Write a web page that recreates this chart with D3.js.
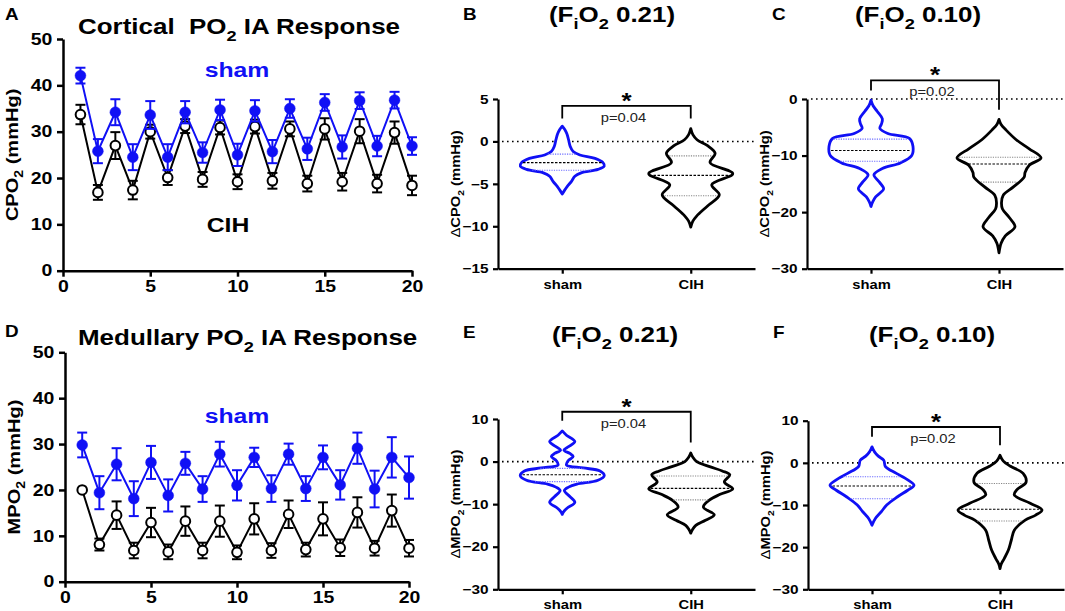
<!DOCTYPE html>
<html>
<head>
<meta charset="utf-8">
<script src="https://cdn.jsdelivr.net/npm/d3@7"></script>
<style>
  body { margin: 0; background: #fff; }
  svg { display: block; }
</style>
</head>
<body>
<svg id="fig" width="1065" height="611"></svg>
<script>
// ---------- data ----------
var trial = [1, 2, 3, 4, 5, 6, 7, 8, 9, 10, 11, 12, 13, 14, 15, 16, 17, 18, 19, 20];

// cortical PO2 (panel A)
var cortSham    = [42.1, 25.8, 34.2, 24.5, 33.6, 24.5, 34.2, 25.5, 34.7, 25.0, 34.5, 25.7, 35.0, 26.3, 36.3, 26.7, 36.7, 26.9, 36.8, 26.9];
var cortShamErr = [1.7, 2.6, 2.8, 2.8, 3.0, 2.8, 2.4, 2.2, 2.2, 2.4, 2.3, 2.5, 2.0, 2.4, 1.8, 2.5, 1.8, 2.2, 1.8, 1.9];
var cortCih     = [33.7, 16.9, 27.0, 17.4, 30.0, 20.1, 31.2, 19.7, 30.9, 19.2, 31.1, 19.4, 30.6, 18.8, 30.6, 19.2, 30.1, 18.8, 29.8, 18.4];
var cortCihErr  = [2.1, 1.6, 2.9, 2.0, 1.5, 1.6, 1.5, 1.6, 1.5, 1.6, 1.5, 1.7, 1.6, 1.7, 2.3, 1.9, 2.6, 1.9, 2.4, 2.1];

// medullary PO2 (panel D)
var medSham    = [29.8, 19.4, 25.6, 18.1, 26.0, 18.8, 25.8, 20.2, 27.8, 21.0, 27.1, 20.3, 27.8, 20.3, 27.1, 21.1, 29.1, 20.2, 27.1, 22.7];
var medShamErr = [2.7, 3.6, 3.5, 3.8, 3.6, 3.5, 2.5, 2.8, 2.7, 3.3, 2.1, 2.9, 2.3, 2.7, 2.6, 3.2, 3.4, 4.0, 4.4, 4.6];
var medCih     = [20.0, 8.1, 14.5, 6.8, 12.9, 6.5, 13.2, 6.8, 13.2, 6.4, 13.7, 6.8, 14.7, 7.0, 13.7, 7.4, 15.1, 7.3, 15.5, 7.3];
var medCihErr  = [0, 1.3, 3.0, 1.7, 3.2, 1.6, 3.2, 1.7, 3.4, 1.5, 3.4, 1.6, 3.0, 1.5, 3.6, 1.8, 3.3, 1.6, 3.5, 1.8];

var seriesTicksX = [0, 5, 10, 15, 20];
var seriesTicksY = [0, 10, 20, 30, 40, 50];

// violins: [value, relative density]  +  [Q1, median, Q3]
var groups = ["sham", "CIH"];

var cortNormShamDens = [[1.8,0],[1.4,0.06],[0.9,0.11],[0.2,0.15],[-0.6,0.19],[-1.2,0.26],[-1.6,0.42],[-2.0,0.78],[-2.5,0.97],[-2.9,1.0],[-3.3,0.85],[-3.7,0.45],[-4.1,0.3],[-4.7,0.22],[-5.3,0.12],[-5.8,0.05],[-6.2,0]];
var cortNormShamQ = [-1.5, -2.5, -3.4];
var cortNormCihDens = [[1.5,0],[0.8,0.05],[0.2,0.15],[-0.5,0.4],[-1.4,0.58],[-2.5,0.46],[-3.8,1.0],[-5.1,0.5],[-6.3,0.68],[-7.6,0.4],[-8.8,0.14],[-9.4,0.05],[-10.1,0]];
var cortNormCihQ = [-1.7, -4.0, -6.4];

var cortHypShamDens = [[-0.2,0],[-1.2,0.05],[-2.2,0.15],[-3.5,0.27],[-4.4,0.25],[-5.2,0.21],[-6.1,0.4],[-7.0,0.92],[-8.4,1.0],[-10.0,0.97],[-11.3,0.7],[-12.3,0.27],[-13.4,0.07],[-14.7,0.2],[-15.9,0.3],[-17.3,0.11],[-18.2,0.04],[-19.0,0]];
var cortHypShamQ = [-7.1, -9.1, -11.0];
var cortHypCihDens = [[-3.6,0],[-4.5,0.05],[-5.5,0.17],[-7.2,0.41],[-8.8,0.72],[-10.4,1.0],[-11.7,0.72],[-13.0,0.62],[-13.8,0.6],[-15.5,0.35],[-17.0,0.1],[-18.3,0.06],[-19.4,0.08],[-21.0,0.25],[-22.6,0.38],[-24.2,0.15],[-25.5,0.05],[-27.2,0]];
var cortHypCihQ = [-10.3, -11.5, -14.7];

var medNormShamDens = [[7.2,0],[6.2,0.1],[4.7,0.3],[3.5,0.15],[2.7,0.04],[1.9,0.18],[1.2,0.26],[0.2,0.14],[-0.8,0.1],[-1.5,0.5],[-2.2,0.9],[-3.3,1.0],[-4.4,0.85],[-5.3,0.35],[-6.0,0.15],[-6.8,0.05],[-8.2,0.18],[-9.6,0.3],[-10.9,0.12],[-11.7,0.04],[-12.4,0]];
var medNormShamQ = [-1.6, -3.1, -4.7];
var medNormCihDens = [[2.0,0],[1.0,0.05],[0,0.14],[-1.2,0.45],[-2.2,0.75],[-3.1,0.93],[-4.8,0.8],[-6.4,1.0],[-7.7,0.7],[-9.0,0.45],[-10.7,0.3],[-12.5,0.56],[-13.8,0.35],[-15.0,0.12],[-16.0,0.04],[-16.8,0]];
var medNormCihQ = [-3.4, -6.3, -9.0];

var medHypShamDens = [[3.8,0],[2.6,0.06],[1.6,0.15],[0.6,0.28],[-0.9,0.32],[-2.5,0.58],[-4.1,0.86],[-5.3,1.0],[-6.5,0.85],[-8.1,0.6],[-10.0,0.35],[-11.6,0.22],[-13.2,0.08],[-14.8,0]];
var medHypShamQ = [-3.3, -5.5, -8.5];
var medHypCihDens = [[1.8,0],[0.4,0.08],[-0.8,0.25],[-2.5,0.55],[-4.6,0.62],[-6.4,0.4],[-7.6,0.34],[-9.6,0.72],[-11.2,1.0],[-12.4,0.85],[-13.6,0.6],[-16.0,0.34],[-18.3,0.27],[-20.7,0.2],[-22.7,0.1],[-24.0,0.03],[-25.1,0]];
var medHypCihQ = [-4.9, -11.0, -13.8];

var pValues = ["p=0.04", "p=0.02", "p=0.04", "p=0.02"];

// ---------- drawing ----------
var SX = 1.18;   // the source figure is stretched a bit horizontally
var FONT = '"Liberation Sans", Arial, Helvetica, sans-serif';
var BLUE = "#1010f5";

var svg = d3.select("#fig").attr("font-family", FONT);

// text with optional subscripts; parts are strings or {t, sub, w}
function label(parent, x, y, parts, o) {
	var tr = "translate(" + x + "," + y + ")" + (o.rot ? " rotate(" + o.rot + ")" : "") + " scale(" + SX + ",1)";
	var t = parent.append("g").attr("transform", tr).append("text")
		.attr("font-size", o.size)
		.attr("font-weight", o.weight || "bold")
		.attr("text-anchor", o.anchor || "start")
		.attr("fill", o.fill || "#000")
		.style("white-space", "pre");
	var shift = 0;
	parts.forEach(function(p) {
		var s = (typeof p === "string") ? {t: p} : p;
		var target = s.sub ? o.size * 0.3 : 0;
		var ts = t.append("tspan").text(s.t).attr("dy", target - shift);
		if (s.sub) ts.attr("font-size", o.size * 0.7);
		if (s.w) ts.attr("font-weight", s.w);
		shift = target;
	});
	return t;
}

function styleAxis(g, size, width) {
	g.attr("font-family", null).attr("font-size", null);
	g.select(".domain").attr("stroke", "#000").attr("stroke-width", width);
	g.selectAll(".tick line").attr("stroke", "#000").attr("stroke-width", width);
	g.selectAll(".tick text")
		.attr("font-size", size)
		.attr("font-weight", "bold")
		.attr("fill", "#000")
		.attr("transform", "scale(" + SX + ",1)");
}

// time course panel (A, D)
function seriesPanel(c) {
	var g = svg.append("g");
	var x = d3.scaleLinear().domain([0, 20]).range([c.x0, c.x1]);
	var y = d3.scaleLinear().domain([0, 50]).range([c.yBot, c.yTop]);

	var ax = g.append("g").attr("transform", "translate(0," + c.yBot + ")")
		.call(d3.axisBottom(x).tickValues(seriesTicksX).tickSize(6).tickSizeOuter(0).tickPadding(4));
	styleAxis(ax, 16.5, 2.5);
	var ay = g.append("g").attr("transform", "translate(" + c.x0 + ",0)")
		.call(d3.axisLeft(y).tickValues(seriesTicksY).tickSize(6).tickSizeOuter(0).tickPadding(3));
	styleAxis(ay, 16.5, 2.5);

	label(g, c.x0 - 45, (c.yTop + c.yBot) / 2, c.yLabel, {size: 17, rot: -90, anchor: "middle"});
	label(g, 5, c.letterY, [c.letter], {size: 16});
	label(g, 78, c.titleY, c.title, {size: 22});

	var line = d3.line().x(function(d, i) { return x(trial[i]); }).y(function(d) { return y(d); });

	c.series.forEach(function(s) {
		var sg = g.append("g");
		sg.append("path").datum(s.mean).attr("d", line)
			.attr("fill", "none").attr("stroke", s.color).attr("stroke-width", 2);

		// error bars (SEM), skipped where none is shown
		sg.selectAll("g.err").data(s.mean).join("g").attr("class", "err").each(function(d, i) {
			if (!(s.err[i] > 0)) return;
			var el = d3.select(this);
			var cx = x(trial[i]), lo = y(d - s.err[i]), hi = y(d + s.err[i]);
			el.append("line").attr("x1", cx).attr("x2", cx).attr("y1", lo).attr("y2", hi);
			el.append("line").attr("x1", cx - 5).attr("x2", cx + 5).attr("y1", lo).attr("y2", lo);
			el.append("line").attr("x1", cx - 5).attr("x2", cx + 5).attr("y1", hi).attr("y2", hi);
			el.selectAll("line").attr("stroke", s.color).attr("stroke-width", 2);
		});

		sg.selectAll("circle").data(s.mean).join("circle")
			.attr("cx", function(d, i) { return x(trial[i]); })
			.attr("cy", function(d) { return y(d); })
			.attr("r", s.filled ? 5.4 : 4.8)
			.attr("fill", s.filled ? s.color : "#fff")
			.attr("stroke", s.color)
			.attr("stroke-width", s.filled ? 0.5 : 2);
	});

	c.notes.forEach(function(n) {
		label(g, n.x, n.y, [n.t], {size: 21, anchor: "middle", fill: n.color});
	});
}

function densAt(dens, v) {
	for (var i = 0; i < dens.length - 1; i++) {
		var a = dens[i], b = dens[i + 1];
		if (v <= a[0] && v >= b[0]) return a[1] + (b[1] - a[1]) * (a[0] - v) / (a[0] - b[0]);
	}
	return 0;
}

// violin panel (B, C, E, F)
function violinPanel(c) {
	var g = svg.append("g");
	var x = d3.scalePoint().domain(groups).range([c.x0, c.x1]).padding(0.5);
	var y = d3.scaleLinear().domain(c.domain).range([c.yBot, c.yTop]);
	var w = d3.scaleLinear().domain([0, 1]).range([0, 42]);

	// zero reference line
	g.append("line").attr("x1", c.x0 + 4).attr("x2", c.x1).attr("y1", y(0)).attr("y2", y(0))
		.attr("stroke", "#000").attr("stroke-width", 1.6).attr("stroke-dasharray", "1.6,3.4");

	var ax = g.append("g").attr("transform", "translate(0," + c.yBot + ")")
		.call(d3.axisBottom(x).tickSize(5).tickSizeOuter(0).tickPadding(6));
	styleAxis(ax, 12.5, 2.2);
	var ay = g.append("g").attr("transform", "translate(" + c.x0 + ",0)")
		.call(d3.axisLeft(y).tickValues(c.ticks).tickSize(5).tickSizeOuter(0).tickPadding(3));
	styleAxis(ay, 13, 2.2);

	label(g, c.x0 - 38, (c.yTop + c.yBot) / 2, [{t: "\u0394", w: "normal"}, c.site + "PO", {t: "2", sub: true}, " (mmHg)"], {size: 12.5, rot: -90, anchor: "middle"});
	label(g, c.x0 - 35, c.letterY, [c.letter], {size: 16});
	label(g, c.titleX, c.titleY, ["(F", {t: "i", sub: true}, "O", {t: "2", sub: true}, " " + c.fio2 + ")"], {size: 22, anchor: "middle"});

	c.violins.forEach(function(v) {
		var cx = x(v.group);
		var area = d3.area()
			.curve(d3.curveCatmullRom.alpha(0.5))
			.y(function(d) { return y(d[0]); })
			.x0(function(d) { return cx - w(d[1]); })
			.x1(function(d) { return cx + w(d[1]); });
		g.append("path").datum(v.dens).attr("d", area)
			.attr("fill", "#fff").attr("stroke", v.color).attr("stroke-width", 2.8).attr("stroke-linejoin", "round");
		v.q.forEach(function(q, i) {
			var hw = w(densAt(v.dens, q)) - 1.5;
			g.append("line").attr("x1", cx - hw).attr("x2", cx + hw).attr("y1", y(q)).attr("y2", y(q))
				.attr("stroke", i === 1 ? "#000" : v.qColor)
				.attr("stroke-width", 1.1)
				.attr("stroke-dasharray", i === 1 ? "2.5,1.5" : "1.2,1.2");
		});
	});

	// significance bracket
	var xa = x(groups[0]), xb = x(groups[1]), top = y(c.br[0]);
	g.append("path")
		.attr("d", "M" + xa + "," + y(c.br[1]) + "V" + top + "H" + xb + "V" + y(c.br[2]))
		.attr("fill", "none").attr("stroke", "#000").attr("stroke-width", 1.8);
	label(g, (xa + xb) / 2, top + 2, ["*"], {size: 22, anchor: "middle"});
	label(g, (xa + xb) / 2 - 3, top + 16, [c.p], {size: 12.5, weight: "normal", anchor: "middle", fill: "#222"});
}

seriesPanel({
	x0: 63, x1: 412, yTop: 39, yBot: 270.7,
	letter: "A", letterY: 20, titleY: 34,
	title: ["Cortical  PO", {t: "2", sub: true}, " IA Response"],
	yLabel: ["CPO", {t: "2", sub: true}, " (mmHg)"],
	series: [
		{mean: cortCih, err: cortCihErr, color: "#000", filled: false},
		{mean: cortSham, err: cortShamErr, color: BLUE, filled: true}
	],
	notes: [{t: "sham", x: 237, y: 77, color: BLUE}, {t: "CIH", x: 228, y: 232, color: "#000"}]
});

seriesPanel({
	x0: 65, x1: 409, yTop: 352.3, yBot: 581.7,
	letter: "D", letterY: 337, titleY: 345,
	title: ["Medullary PO", {t: "2", sub: true}, " IA Response"],
	yLabel: ["MPO", {t: "2", sub: true}, " (mmHg)"],
	series: [
		{mean: medCih, err: medCihErr, color: "#000", filled: false},
		{mean: medSham, err: medShamErr, color: BLUE, filled: true}
	],
	notes: [{t: "sham", x: 237, y: 423, color: BLUE}]
});

violinPanel({
	x0: 498, x1: 755, yTop: 99, yBot: 268.7, domain: [-15, 5], ticks: [-15, -10, -5, 0, 5],
	site: "C", letter: "B", letterY: 20, titleX: 612, titleY: 22, fio2: "0.21",
	br: [4.2, 2.7, 2.7], p: pValues[0],
	violins: [
		{group: "sham", dens: cortNormShamDens, q: cortNormShamQ, color: BLUE, qColor: "#6b6bff"},
		{group: "CIH", dens: cortNormCihDens, q: cortNormCihQ, color: "#000", qColor: "#888"}
	]
});

violinPanel({
	x0: 807, x1: 1063, yTop: 99, yBot: 268.7, domain: [-30, 0], ticks: [-30, -20, -10, 0],
	site: "C", letter: "C", letterY: 20, titleX: 918, titleY: 22, fio2: "0.10",
	br: [3.3, 1.5, -1.9], p: pValues[1],
	violins: [
		{group: "sham", dens: cortHypShamDens, q: cortHypShamQ, color: BLUE, qColor: "#6b6bff"},
		{group: "CIH", dens: cortHypCihDens, q: cortHypCihQ, color: "#000", qColor: "#888"}
	]
});

violinPanel({
	x0: 498, x1: 755, yTop: 419, yBot: 589.3, domain: [-30, 10], ticks: [-30, -20, -10, 0, 10],
	site: "M", letter: "E", letterY: 338, titleX: 615, titleY: 342, fio2: "0.21",
	br: [11.7, 9.6, 4.5], p: pValues[2],
	violins: [
		{group: "sham", dens: medNormShamDens, q: medNormShamQ, color: BLUE, qColor: "#6b6bff"},
		{group: "CIH", dens: medNormCihDens, q: medNormCihQ, color: "#000", qColor: "#888"}
	]
});

violinPanel({
	x0: 808, x1: 1064, yTop: 420.7, yBot: 589.3, domain: [-30, 10], ticks: [-30, -20, -10, 0, 10],
	site: "M", letter: "F", letterY: 338, titleX: 932, titleY: 342, fio2: "0.10",
	br: [8.5, 6.2, 4.2], p: pValues[3],
	violins: [
		{group: "sham", dens: medHypShamDens, q: medHypShamQ, color: BLUE, qColor: "#6b6bff"},
		{group: "CIH", dens: medHypCihDens, q: medHypCihQ, color: "#000", qColor: "#888"}
	]
});
</script>
</body>
</html>
